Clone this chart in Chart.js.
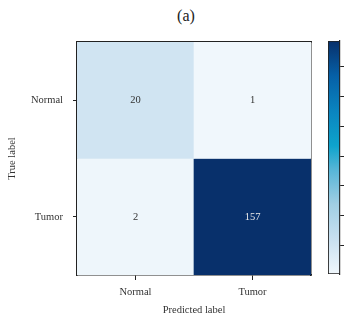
<!DOCTYPE html>
<html>
<head>
<meta charset="utf-8">
<script src="https://cdn.jsdelivr.net/npm/chart.js@4.4.1/dist/chart.umd.min.js"></script>
<style>
  html, body { margin: 0; padding: 0; background: #fff; overflow: hidden; }
  body { width: 345px; height: 321px; position: relative; }
  #title { position: absolute; left: 146px; width: 80px; top: 6px; text-align: center;
           font: 16px "Liberation Serif", serif; line-height: 19px; color: #222; }
  #matrix { position: absolute; left: 0; top: 0; }
  #colorbar { position: absolute; left: 300px; top: 0; }
</style>
</head>
<body>
<div id="title">(a)</div>
<canvas id="matrix" width="345" height="321"></canvas>
<canvas id="colorbar" width="100" height="321"></canvas>
<script>
// confusion matrix: rows = true label, columns = predicted label
const classes = ['Normal', 'Tumor'];
const trueNormal = [20, 1];
const trueTumor = [2, 157];
const colorbarTicks = [20, 40, 60, 80, 100, 120, 140];
const colorMin = 1;
const colorMax = 157;

const ink = '#222';
const serif = { family: '"Liberation Serif", "Times New Roman", serif', size: 10.5 };

// blue colour map, bottom (low) to top (high)
const colorStops = [
    [0, '#f0f7fc'],
    [0.15, '#c8e0f0'],
    [0.3, '#a0cee3'],
    [0.45, '#55b5d7'],
    [0.55, '#0ea3cc'],
    [0.7, '#0a84bf'],
    [0.85, '#0660a7'],
    [1, '#08306b'],
];

const hexToRgb = (hex) => [1, 3, 5].map((i) => parseInt(hex.slice(i, i + 2), 16));

const colorFor = (v) => {
    const t = Math.min(1, Math.max(0, (v - colorMin) / (colorMax - colorMin)));
    for (let i = 1; i < colorStops.length; i++) {
        const [t1, c1] = colorStops[i];
        if (t <= t1) {
            const [t0, c0] = colorStops[i - 1];
            const f = (t - t0) / (t1 - t0);
            const a = hexToRgb(c0);
            const b = hexToRgb(c1);
            const rgb = a.map((x, k) => Math.round(x + (b[k] - x) * f));
            return `rgb(${rgb.join(',')})`;
        }
    }
    return colorStops[colorStops.length - 1][1];
};

const rows = [trueNormal, trueTumor];
const n = classes.length;

const cellValues = {
    id: 'cellValues',
    afterDatasetsDraw(chart) {
        const { ctx } = chart;
        ctx.save();
        ctx.font = `${serif.size}px ${serif.family}`;
        ctx.textAlign = 'center';
        ctx.textBaseline = 'middle';
        chart.data.datasets.forEach((ds, i) => {
            chart.getDatasetMeta(i).data.forEach((bar, j) => {
                const v = ds.counts[j];
                ctx.fillStyle = v > colorMax / 2 ? '#e8e8e8' : '#333';
                ctx.fillText(String(v), bar.x, (bar.y + bar.base) / 2);
            });
        });
        ctx.restore();
    },
};

const frameAxis = (position) => ({
    type: 'linear',
    position,
    min: 0,
    max: 1,
    ticks: { display: false },
    grid: { display: false },
    border: { display: true, color: ink, width: 1.5 },
    afterFit: (s) => {
        if (position === 'top') s.height = 0;
        else s.width = 0;
    },
});

new Chart(document.getElementById('matrix'), {
    type: 'bar',
    data: {
        labels: classes,
        datasets: rows.map((row, i) => ({
            label: classes[i],
            data: row.map(() => [n - 1 - i, n - i]),
            counts: row,
            backgroundColor: row.map(colorFor),
            borderWidth: 0,
            barPercentage: 1,
            categoryPercentage: 1,
        })),
    },
    options: {
        responsive: false,
        animation: false,
        layout: { padding: { left: 0, top: 42, right: 34, bottom: 0 } },
        plugins: { legend: { display: false }, tooltip: { enabled: false } },
        scales: {
            x: {
                stacked: true,
                grid: { offset: false, drawOnChartArea: false, tickLength: 5, color: ink },
                border: { display: true, color: ink, width: 1.5 },
                ticks: { font: serif, color: '#333', padding: 6 },
                title: { display: true, text: 'Predicted label', font: serif, color: '#333', padding: { top: 0, bottom: 4 } },
                afterFit: (s) => { s.height = 46; },
            },
            y: {
                type: 'linear',
                stacked: false,
                min: 0,
                max: n,
                afterBuildTicks: (axis) => {
                    axis.ticks = classes.map((_, i) => ({ value: n - 1 - i + 0.5 }));
                },
                grid: { drawOnChartArea: false, tickLength: 4, color: ink },
                border: { display: true, color: ink, width: 1.5 },
                ticks: {
                    font: serif,
                    color: '#333',
                    padding: 10,
                    callback: (v) => classes[n - 1 - Math.floor(v)],
                },
                title: { display: true, text: 'True label', font: serif, color: '#333', padding: { top: 6, bottom: 0 } },
                afterFit: (s) => { s.width = 77; },
            },
            x2: frameAxis('top'),
            y2: frameAxis('right'),
        },
    },
    plugins: [cellValues],
});

new Chart(document.getElementById('colorbar'), {
    type: 'bar',
    data: {
        labels: [''],
        datasets: [{
            data: [[colorMin, colorMax]],
            backgroundColor: (ctx) => {
                const area = ctx.chart.chartArea;
                if (!area) return null;
                const g = ctx.chart.ctx.createLinearGradient(0, area.bottom, 0, area.top);
                colorStops.forEach(([t, c]) => g.addColorStop(t, c));
                return g;
            },
            borderColor: ink,
            borderWidth: 1.2,
            borderSkipped: false,
            barPercentage: 1,
            categoryPercentage: 1,
        }],
    },
    options: {
        responsive: false,
        animation: false,
        layout: { padding: { left: 28, top: 41, right: 0, bottom: 47 } },
        plugins: { legend: { display: false }, tooltip: { enabled: false } },
        scales: {
            x: { display: false },
            y: {
                position: 'right',
                min: colorMin,
                max: colorMax,
                afterBuildTicks: (axis) => {
                    axis.ticks = colorbarTicks.map((v) => ({ value: v }));
                },
                grid: { drawOnChartArea: false, tickLength: 4, color: ink },
                border: { display: true, color: ink, width: 1.2 },
                ticks: { font: serif, color: '#333', padding: 3 },
                afterFit: (s) => { s.width = 60; },
            },
        },
    },
});
</script>
</body>
</html>
